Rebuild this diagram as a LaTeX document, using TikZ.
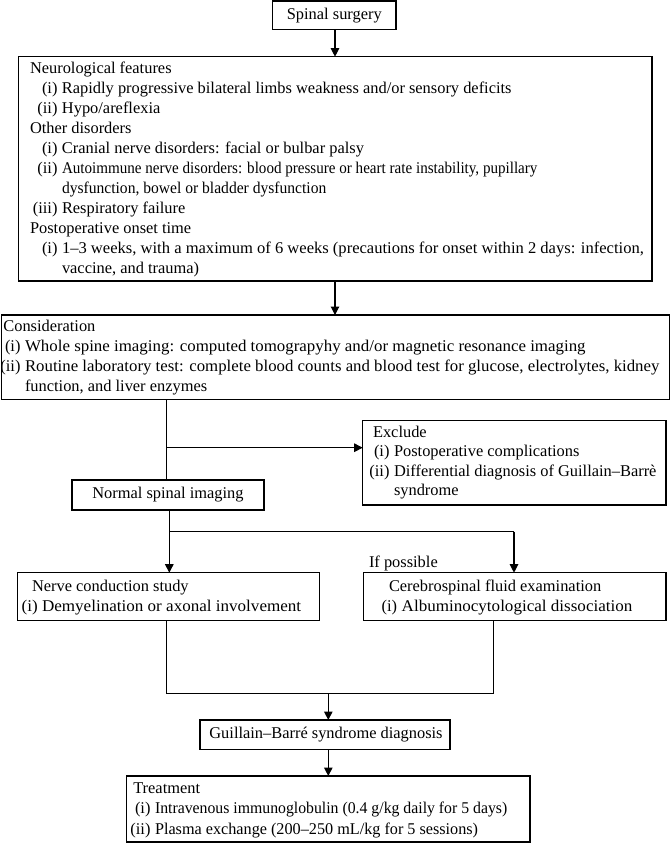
\documentclass[tikz,border=0pt]{standalone}
\usepackage{fontspec}
\usepackage{graphicx}
\setmainfont{Liberation Serif}
\usetikzlibrary{arrows.meta,fit}
\newcommand\txtline[4]{\node[txt] (#1) at (#2,#3) {#4};}
\newcommand\lab[1]{\llap{#1\hspace{4.5pt}}}
\newcommand\sx[2]{\scalebox{#1}[1]{#2}}
\newcommand\boxfit[5]{%
  \coordinate (#1-nw) at (#2,#3);
  \coordinate (#1-se) at (#4,#5);
  \node[boxr, fit=(#1-nw)(#1-se)] (#1) {};}
\begin{document}
\begin{tikzpicture}[x=1pt,y=-1pt,
  font=\fontsize{16.4}{20}\selectfont,
  txt/.style={anchor=base west, inner sep=0pt, outer sep=0pt},
  boxr/.style={draw=black, line width=1.1pt, inner sep=0pt, outer sep=0pt},
  conn/.style={draw=black, line width=1.1pt},
  arr/.style={conn, -{Triangle[length=8.5pt,width=8.5pt]}}]
\useasboundingbox (0,0) rectangle (671,843);

% boxes
\boxfit{spinal}{272.7}{1}{396}{29.3}
\node[anchor=center, inner sep=0pt] (spinalt) at (334.3,15.2) {Spinal surgery};
\boxfit{boxA}{18.5}{56.7}{652}{281}
\boxfit{boxB}{1.5}{315}{669.5}{399.3}
\boxfit{excl}{362.7}{420.7}{666}{505}
\boxfit{normal}{72}{480}{264}{510}
\node[anchor=center, inner sep=0pt] (normalt) at (168,495) {Normal spinal imaging};
\boxfit{ncs}{17.3}{572.7}{319.3}{620.7}
\boxfit{csf}{363.3}{572.7}{666}{620.7}
\boxfit{gbs}{200}{720}{450}{749.3}
\node[anchor=center, inner sep=0pt] (gbst) at (326,734.7) {Guillain–Barré syndrome diagnosis};
\boxfit{treat}{126.7}{776}{530}{842}

% box A text
\txtline{a1}{30}{74}{Neurological features}
\txtline{a2}{62}{93.9}{\lab{(i)}Rapidly progressive bilateral limbs weakness and/or sensory deficits}
\txtline{a3}{62}{113.9}{\lab{(ii)}Hypo/areflexia}
\txtline{a4}{30}{133.8}{Other disorders}
\txtline{a5}{62}{153.7}{\lab{(i)}Cranial nerve disorders: facial or bulbar palsy}
\txtline{a6}{62}{173.7}{\lab{(ii)}\sx{0.92}{Autoimmune nerve disorders: blood pressure or heart rate instability, pupillary}}
\txtline{a7}{62}{193.6}{\sx{0.95}{dysfunction, bowel or bladder dysfunction}}
\txtline{a8}{62}{213.5}{\lab{(iii)}Respiratory failure}
\txtline{a9}{30}{233.4}{Postoperative onset time}
\txtline{a10}{62}{253.4}{\lab{(i)}\sx{1.01}{1–3 weeks, with a maximum of 6 weeks (precautions for onset within 2 days: infection,}}
\txtline{a11}{62}{273.3}{vaccine, and trauma)}

% box B text
\txtline{b1}{3.4}{331}{Consideration}
\txtline{b2}{25}{351}{\lab{(i)}\sx{1.03}{Whole spine imaging: computed tomograpyhy and/or magnetic resonance imaging}}
\txtline{b3}{25}{371}{\lab{(ii)}\sx{1.025}{Routine laboratory test: complete blood counts and blood test for glucose, electrolytes, kidney}}
\txtline{b4}{25}{391}{function, and liver enzymes}

% exclude text
\txtline{e1}{373}{437}{Exclude}
\txtline{e2}{394}{456.5}{\lab{(i)}Postoperative complications}
\txtline{e3}{394}{476}{\lab{(ii)}Differential diagnosis of Guillain–Barrè}
\txtline{e4}{394}{495.5}{syndrome}

% NCS and CSF text
\txtline{n1}{32}{591.7}{Nerve conduction study}
\txtline{n2}{21.7}{611}{\sx{1.04}{(i) Demyelination or axonal involvement}}
\txtline{c1}{389}{591.7}{Cerebrospinal fluid examination}
\txtline{c2}{401.7}{611}{\lab{(i)}\sx{1.04}{Albuminocytological dissociation}}
\txtline{ifp}{369}{567}{If possible}

% treatment text
\txtline{t1}{133.3}{793}{Treatment}
\txtline{t2}{155}{813.5}{\lab{(i)}\sx{0.962}{Intravenous immunoglobulin (0.4 g/kg daily for 5 days)}}
\txtline{t3}{155}{834}{\lab{(ii)}\sx{0.988}{Plasma exchange (200–250 mL/kg for 5 sessions)}}

% connectors
\coordinate (x1) at (335,0);
\draw[arr] (spinal.south -| x1) -- (boxA.north -| x1);
\draw[arr] (boxA.south -| x1) -- (boxB.north -| x1);
\coordinate (j1) at (166.7,447.7);
\draw[conn] (boxB.south -| j1) -- (normal.north -| j1);
\draw[arr] (j1) -- (j1 -| excl.west);
\coordinate (j2) at (169.3,531.7);
\coordinate (j3) at (514,531.7);
\draw[conn] (normal.south -| j2) -- (j2) -- (j3);
\draw[arr] (j2) -- (ncs.north -| j2);
\draw[arr] (j3) -- (csf.north -| j3);
\coordinate (k1) at (166.7,693.3);
\coordinate (k2) at (493.3,693.3);
\coordinate (k3) at (328.3,693.3);
\draw[conn] (ncs.south -| k1) -- (k1) -- (k2) -- (csf.south -| k2);
\draw[arr] (k3) -- (gbs.north -| k3);
\draw[arr] (gbs.south -| k3) -- (treat.north -| k3);
\end{tikzpicture}
\end{document}
